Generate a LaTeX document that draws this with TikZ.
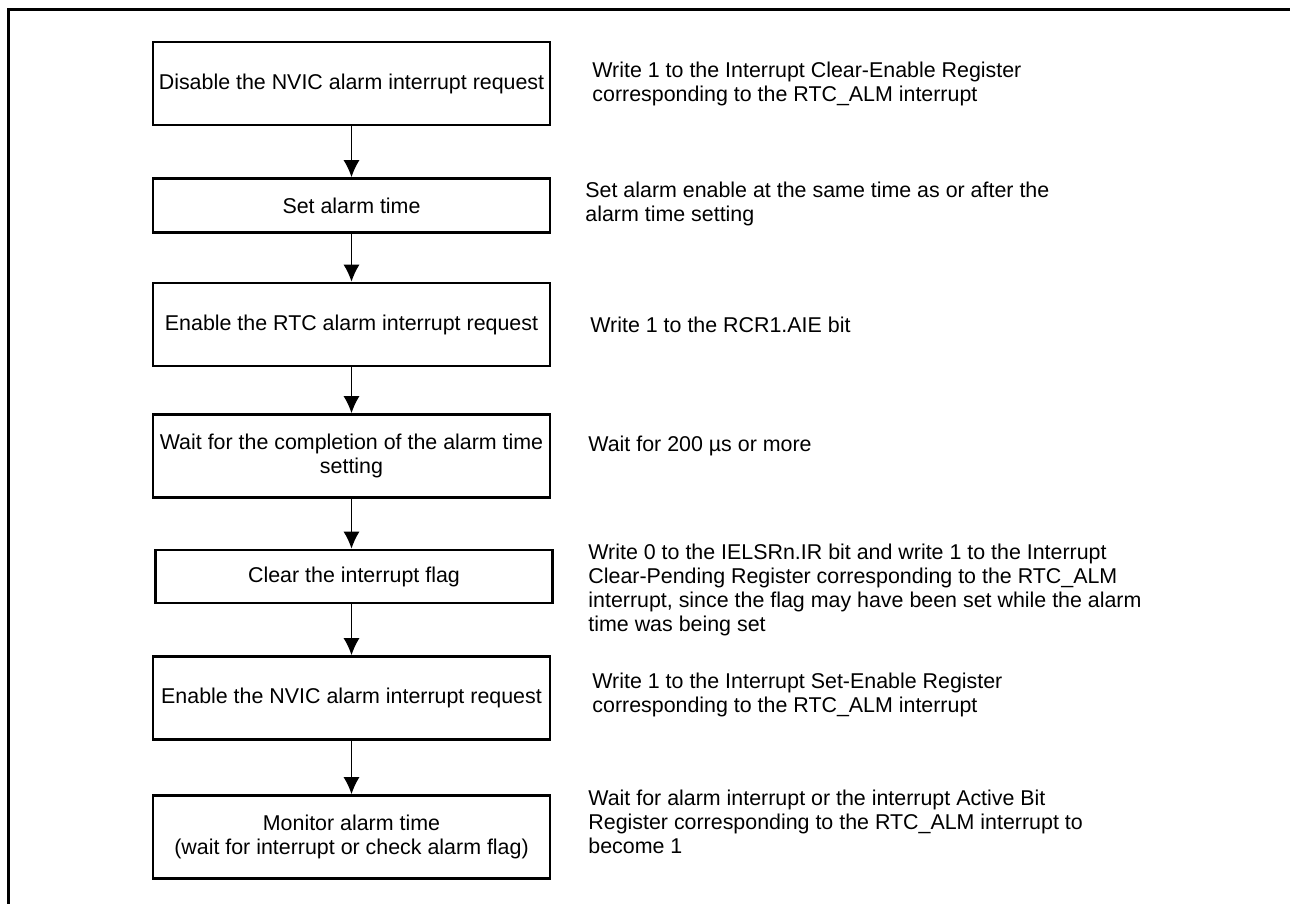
\documentclass[tikz,border=0pt]{standalone}
\usepackage{fontspec}
\setmainfont{Liberation Sans}
\usepackage{tikz}
\usetikzlibrary{arrows.meta,positioning}

\begin{document}
\begin{tikzpicture}[
    x=0.5pt, y=-0.5pt,
    procbox/.style={draw, line width=1.4pt, minimum width=198.5pt, minimum height=41.5pt, inner xsep=1pt, inner ysep=2pt, font=\fontsize{10.7}{12}\selectfont, align=center},
    thinbox/.style={procbox, minimum height=27pt},
    remark/.style={anchor=west, inner sep=0pt, font=\fontsize{10.7}{12}\selectfont, align=left},
    arrow/.style={-{Latex[length=8.5pt, width=8pt]}, line width=0.5pt}
]
    \useasboundingbox (0,0) rectangle (1290,904);
    % frame
    \draw[line width=1.5pt] (1290,9.5) -- (8.5,9.5) -- (8.5,904);

    % steps
    \node[procbox] (dis) at (351.5,83.5) {Disable the NVIC alarm interrupt request};
    \node[thinbox] (set) at (351.5,205.5) {Set alarm time};
    \node[procbox] (rtc) at (351.5,324.5) {Enable the RTC alarm interrupt request};
    \node[procbox] (wait) at (351.5,456) {Wait for the completion of the alarm time\\setting};
    \node[thinbox, minimum height=26.5pt] (clr) at (354,576.5) {Clear the interrupt flag};
    \node[procbox] (nvic) at (351.5,698) {Enable the NVIC alarm interrupt request};
    \node[procbox] (mon) at (351.5,837) {Monitor alarm time\\(wait for interrupt or check alarm flag)};

    \draw[arrow] (dis) -- (set);
    \draw[arrow] (set) -- (rtc);
    \draw[arrow] (rtc) -- (wait);
    \draw[arrow] (wait.south) -- (wait.south |- clr.north);
    \draw[arrow] (wait.south |- clr.south) -- (nvic.north);
    \draw[arrow] (nvic) -- (mon);

    % remarks
    \node[remark] (r1) at (592,84) {Write 1 to the Interrupt Clear-Enable Register\\corresponding to the RTC\_ALM interrupt};
    \node[remark] (r2) at (585,204) {Set alarm enable at the same time as or after the\\alarm time setting};
    \node[remark] (r3) at (590,325) {Write 1 to the RCR1.AIE bit};
    \node[remark] (r4) at (588,446) {Wait for 200 µs or more};
    \node[remark] (r5) at (588,590) {Write 0 to the IELSRn.IR bit and write 1 to the Interrupt\\Clear-Pending Register corresponding to the RTC\_ALM\\interrupt, since the flag may have been set while the alarm\\time was being set};
    \node[remark] (r6) at (592,695) {Write 1 to the Interrupt Set-Enable Register\\corresponding to the RTC\_ALM interrupt};
    \node[remark] (r7) at (588,822) {Wait for alarm interrupt or the interrupt Active Bit\\Register corresponding to the RTC\_ALM interrupt to\\become 1};
\end{tikzpicture}
\end{document}
